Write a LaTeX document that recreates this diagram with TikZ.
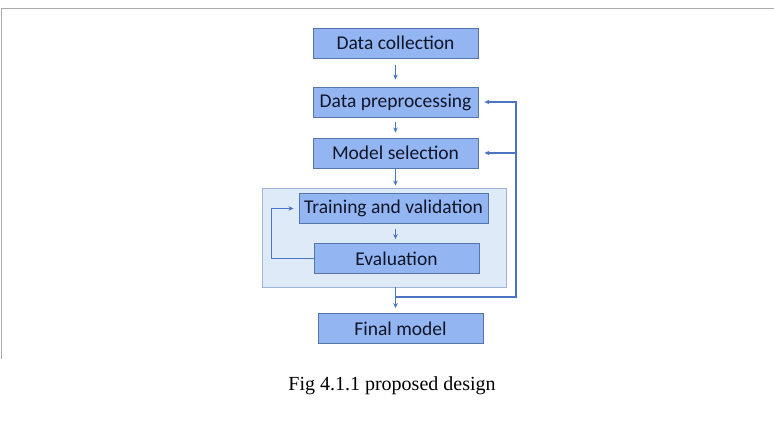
\documentclass[tikz,border=0pt]{standalone}
\usepackage{fontspec}
\setmainfont{Liberation Serif}
\newfontfamily\boxfont{Carlito}
\usetikzlibrary{arrows.meta}
\definecolor{boxfill}{HTML}{93B6F3}
\definecolor{boxedge}{HTML}{5574A8}
\definecolor{boxtext}{HTML}{101528}
\definecolor{flowblue}{HTML}{4A74C4}
\definecolor{loopfill}{HTML}{DFEAF8}
\definecolor{loopedge}{HTML}{9DB4D4}
\definecolor{framegray}{HTML}{AAAAAA}
\begin{document}
\begin{tikzpicture}[>={Stealth[length=5pt,width=4.5pt]},x=1pt,y=-1pt,
  stage/.style={draw=boxedge,fill=boxfill,line width=0.9pt,minimum width=165pt,
    minimum height=30pt,inner sep=0pt,text=boxtext,
    font=\boxfont\fontsize{19.5}{22}\selectfont},
  flow/.style={->,draw=flowblue,line width=1.1pt}]
  \useasboundingbox (0,0) rectangle (774,423);
  % frame
  \draw[framegray,line width=1pt] (1,359) -- (1,8) -- (774,8);
  % loop box
  \node[draw=loopedge,fill=loopfill,line width=0.9pt,minimum width=244pt,
    minimum height=99pt,inner sep=0pt] (loop) at (384,237.5) {};
  % stages
  \node[stage] (collect) at (395.5,43) {Data collection};
  \node[stage] (prep) at (395.5,102) {Data preprocessing};
  \node[stage] (model) at (395.5,153) {Model selection};
  \node[stage,minimum width=189pt] (train) at (393.5,208.5) {Training and validation};
  \node[stage] (eval) at (396.5,258.5) {Evaluation};
  \node[stage] (final) at (400.5,328.5) {Final model};
  \coordinate (turn) at (516,297);
  % arrows
  \draw[flow,shorten <=7pt,shorten >=7pt] (collect.south) -- (collect.south |- prep.north);
  \draw[flow,shorten <=5pt,shorten >=5pt] (prep.south) -- (prep.south |- model.north);
  \draw[flow,shorten >=2pt] (model.south) -- (model.south |- loop.north);
  \draw[flow,shorten <=5pt,shorten >=4pt] (train.south -| model) -- (eval.north -| model);
  \draw[flow,shorten >=5pt] (loop.south -| model) -- (final.north -| model);
  % feedback
  \draw[flow,shorten >=6pt] (loop.south -| model) |- (turn) |- (prep.east);
  \draw[flow,shorten >=6pt] (model.east -| turn) -- (model.east);
  \draw[flow,shorten >=5pt] (eval.west) -- ++(-42,0) |- (train.west);
  % caption
  \node[font=\fontsize{20}{24}\selectfont] (caption) at (392,386) {Fig 4.1.1 proposed design};
\end{tikzpicture}
\end{document}
